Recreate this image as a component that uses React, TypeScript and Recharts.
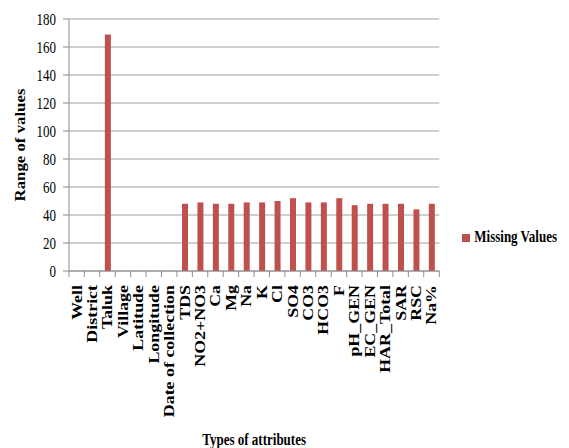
import { BarChart, Bar, XAxis, YAxis, CartesianGrid, Legend } from 'recharts'

const categories = [
  'Well', 'District', 'Taluk', 'Village', 'Latitude', 'Longitude', 'Date of collection',
  'TDS', 'NO2+NO3', 'Ca', 'Mg', 'Na', 'K', 'Cl', 'SO4', 'CO3', 'HCO3', 'F',
  'pH_GEN', 'EC_GEN', 'HAR_Total', 'SAR', 'RSC', 'Na%',
]
const missingValues = [
  0, 0, 169, 0, 0, 0, 0,
  48, 49, 48, 48, 49, 49, 50, 52, 49, 49, 52,
  47, 48, 48, 48, 44, 48,
]
const yTicks = [0, 20, 40, 60, 80, 100, 120, 140, 160, 180]

const data = categories.map((name, i) => ({ name, missing: missingValues[i] }))

const FONT = '"Liberation Serif", "Times New Roman", serif'
const AXIS = '#8c8c8c'
const PLOT_W = 374
// the original picture is stretched vertically, text included
const STRETCH = 1.28

function CategoryTick(props: any) {
  const { x, y, payload, index } = props
  const half = PLOT_W / categories.length / 2
  return (
    <g transform={`translate(${x},${y})`}>
      <line x1={-half} x2={-half} y1={0} y2={6} stroke={AXIS} />
      {index === categories.length - 1 && (
        <line x1={half} x2={half} y1={0} y2={6} stroke={AXIS} />
      )}
      <text
        transform={`rotate(-90) scale(${STRETCH},1)`}
        x={-14 / STRETCH}
        y={0}
        dy="0.35em"
        textAnchor="end"
        fontFamily={FONT}
        fontWeight="bold"
        fontSize={14}
        fill="#000"
      >
        {payload.value}
      </text>
    </g>
  )
}

function ValueTick(props: any) {
  const { x, y, payload } = props
  return (
    <text
      transform={`translate(${x},${y}) scale(1,${STRETCH})`}
      textAnchor="end"
      dy="0.35em"
      fontFamily={FONT}
      fontSize={13}
      fill="#000"
    >
      {payload.value}
    </text>
  )
}

function YTitle(props: any) {
  const { viewBox } = props
  const cx = viewBox.x + 20
  const cy = viewBox.y + viewBox.height / 2
  return (
    <text
      transform={`translate(${cx},${cy}) rotate(-90) scale(1.2,1)`}
      textAnchor="middle"
      dy="0.35em"
      fontFamily={FONT}
      fontWeight="bold"
      fontSize={14}
      fill="#000"
    >
      Range of values
    </text>
  )
}

function XTitle(props: any) {
  const { viewBox } = props
  const cx = viewBox.x + viewBox.width / 2
  const cy = viewBox.y + viewBox.height - 9
  return (
    <text
      transform={`translate(${cx},${cy}) scale(1,${STRETCH})`}
      textAnchor="middle"
      dy="0.35em"
      fontFamily={FONT}
      fontWeight="bold"
      fontSize={13}
      fill="#000"
    >
      Types of attributes
    </text>
  )
}

export default function App() {
  return (
    <div style={{ position: 'absolute', left: 0, top: 0, background: '#fff', fontFamily: FONT }}>
      <BarChart
        width={569}
        height={448}
        data={data}
        margin={{ top: 19, right: 25, left: 0, bottom: 0 }}
        barCategoryGap={0}
      >
        <CartesianGrid vertical={false} stroke="#a0a0a0" />
        <XAxis
          dataKey="name"
          height={177}
          interval={0}
          tickLine={false}
          tickSize={0}
          tickMargin={0}
          stroke={AXIS}
          tick={<CategoryTick />}
          label={<XTitle />}
        />
        <YAxis
          width={69}
          domain={[0, 180]}
          ticks={yTicks}
          interval={0}
          stroke={AXIS}
          tickSize={6}
          tickMargin={7}
          tick={<ValueTick />}
          label={<YTitle />}
        />
        <Legend
          layout="vertical"
          align="right"
          verticalAlign="middle"
          iconType="square"
          iconSize={8}
          wrapperStyle={{ right: 2, top: 229, fontFamily: FONT, fontWeight: 'bold', fontSize: 13 }}
          formatter={(value: string) => (
            <span style={{ color: '#000', display: 'inline-block', transform: `scaleY(${STRETCH})` }}>
              {value}
            </span>
          )}
        />
        <Bar
          dataKey="missing"
          name="Missing Values"
          fill="#C0504D"
          barSize={6}
          isAnimationActive={false}
        />
      </BarChart>
    </div>
  )
}
